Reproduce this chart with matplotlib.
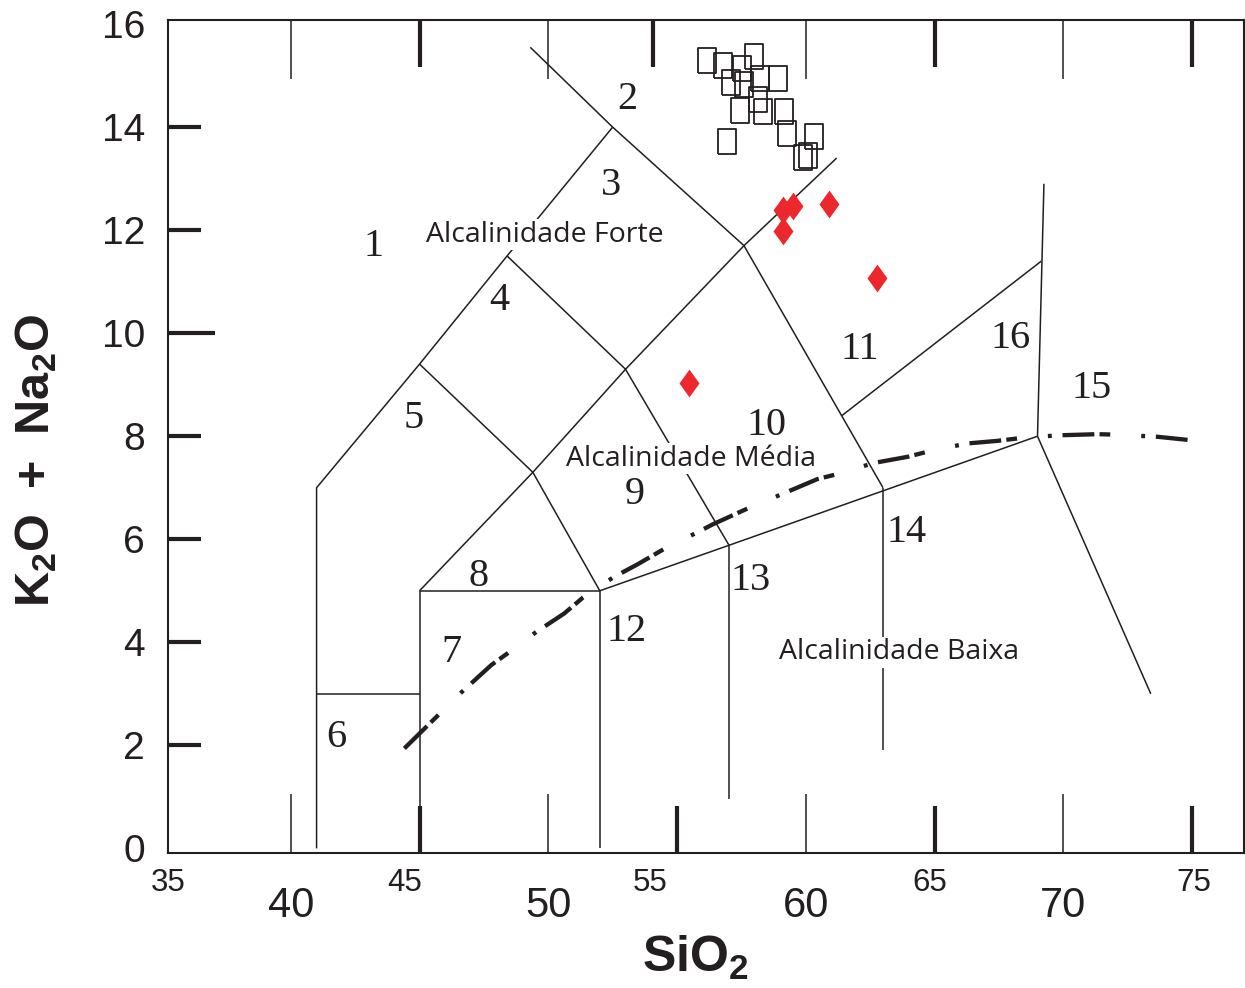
import matplotlib
matplotlib.use("Agg")
import matplotlib.pyplot as plt

plt.rcParams["font.family"] = "Liberation Sans"
plt.rcParams["mathtext.fontset"] = "custom"
plt.rcParams["mathtext.bf"] = "Liberation Sans:bold"
plt.rcParams["mathtext.rm"] = "Liberation Sans"

INK = "#231f20"
RED = "#ec282e"

# samples: open rectangles (SiO2, K2O+Na2O)
sq_sio2 = [56.17, 56.79, 57.98, 57.51, 57.09, 57.62, 58.22, 58.93, 58.13,
           57.43, 58.34, 59.14, 56.94, 59.28, 60.33, 59.91, 60.07]
sq_alk = [15.31, 15.21, 15.39, 15.15, 14.88, 14.83, 14.96, 14.95, 14.55,
          14.33, 14.31, 14.32, 13.74, 13.89, 13.82, 13.42, 13.45]

# samples: red diamonds
dm_sio2 = [59.13, 59.13, 59.52, 60.90, 62.76, 55.46]
dm_alk = [11.98, 12.40, 12.46, 12.51, 11.07, 9.04]

# field boundaries of the TAS grid
fields = [
    ([41, 41, 45, 48.4, 52.5], [0, 7, 9.4, 11.5, 14]),
    ([49.3, 52.5, 57.6, 63], [15.55, 14, 11.7, 7]),
    ([45, 49.4, 53, 57.6, 61.2], [5, 7.3, 9.3, 11.7, 13.4]),
    ([45, 49.4, 52], [9.4, 7.3, 5]),
    ([48.4, 53, 57], [11.5, 9.3, 5.9]),
    ([41, 45], [3, 3]),
    ([45, 45, 52, 52], [0, 5, 5, 0]),
    ([52, 57, 63, 69], [5, 5.88, 6.94, 8]),
    ([57, 57], [0.95, 5.9]),
    ([63, 63], [1.9, 7]),
    ([61.4, 69.15], [8.4, 11.4]),
    ([69, 69.25], [8, 12.9]),
    ([69, 73.4], [8, 3]),
]

# alkaline / subalkaline divide (dash-dot)
div_sio2 = [44.41, 45.59, 46.65, 47.79, 48.43, 49.53, 50.62, 51.35, 52.52,
            53.49, 54.49, 55.81, 56.39, 57.75, 59.14, 60.46, 61.35, 62.63,
            63.95, 64.96, 66.28, 67.44, 68.60, 69.96, 71.32, 72.10, 73.65, 75.01]
div_alk = [1.94, 2.52, 3.04, 3.56, 3.79, 4.20, 4.56, 4.87, 5.26,
           5.52, 5.81, 6.14, 6.29, 6.60, 6.89, 7.17, 7.28, 7.48,
           7.60, 7.73, 7.86, 7.91, 7.98, 8.02, 8.04, 8.03, 7.99, 7.92]

field_labels = [("1", 43.21, 11.68), ("2", 53.05, 14.53), ("3", 52.43, 12.86),
                ("4", 48.09, 10.63), ("5", 44.76, 8.34), ("6", 41.78, 2.16),
                ("7", 46.23, 3.81), ("8", 47.30, 5.27), ("9", 53.36, 6.86),
                ("10", 58.48, 8.20), ("11", 62.09, 9.68), ("12", 53.05, 4.20),
                ("13", 57.86, 5.20), ("14", 63.91, 6.14), ("15", 71.12, 8.92),
                ("16", 67.94, 9.90)]
zone_labels = [("Alcalinidade Forte", 49.88, 11.91),
               ("Alcalinidade Média", 55.53, 7.56),
               ("Alcalinidade Baixa", 63.64, 3.81)]

big_xticks = [40, 50, 60, 70]
small_xticks = [35.23, 44.42, 53.95, 64.8, 75.08]
small_xlabels = ["35", "45", "55", "65", "75"]
thick_top = [45, 54.05, 65, 75]
thick_bottom = [45, 55, 65, 75]
yticks = [0, 2, 4, 6, 8, 10, 12, 14, 16]

fig = plt.figure(figsize=(12.45, 9.88), dpi=100)
ax = fig.add_axes([168 / 1245, 1 - 853 / 988, 1076 / 1245, 832.5 / 988])
ax.set_xlim(35.30, 77.02)
ax.set_ylim(-0.09, 16.07)
for s in ax.spines.values():
    s.set_linewidth(1.5)
    s.set_color(INK)

for xs, ys in fields:
    ax.plot(xs, ys, color=INK, lw=1.1, solid_capstyle="butt", zorder=2)

for s, x, y in field_labels:
    ax.text(x, y, s, family="Liberation Serif", fontsize=29, color=INK,
            ha="center", va="center", zorder=3)
for s, x, y in zone_labels:
    ax.text(x, y, s, family="Open Sans", fontsize=20.5, color=INK,
            ha="center", va="center", zorder=3,
            bbox=dict(facecolor="white", edgecolor="none", pad=1))

ax.plot(div_sio2, div_alk, color=INK, lw=3.1,
        linestyle=(0, (7.4, 1.2, 2.5, 7.2, 0.9, 2.5)), zorder=4)

rect = [(-0.375, -0.5), (0.375, -0.5), (0.375, 0.5), (-0.375, 0.5), (-0.375, -0.5)]
ax.plot(sq_sio2, sq_alk, linestyle="none", marker=rect, markersize=18,
        markerfacecolor="none", markeredgecolor=INK, markeredgewidth=1.3, zorder=5)
diam = [(0, -0.5), (0.36, 0), (0, 0.5), (-0.36, 0), (0, -0.5)]
ax.plot(dm_sio2, dm_alk, linestyle="none", marker=diam, markersize=20,
        color=RED, markeredgewidth=0, zorder=5)

# tick marks drawn inside the frame
xt = ax.get_xaxis_transform()
yt = ax.get_yaxis_transform()
ax.vlines(big_xticks, 1 - 0.0697, 1, transform=xt, color=INK, lw=1.1)
ax.vlines(big_xticks, 0, 0.0709, transform=xt, color=INK, lw=1.1)
ax.vlines(thick_top, 1 - 0.0553, 1, transform=xt, color=INK, lw=3)
ax.vlines(thick_bottom, 0, 0.0565, transform=xt, color=INK, lw=3)
for v in yticks[1:-1]:
    ln = 0.0437 if v == 10 else 0.0307
    ax.hlines(v, 0, ln, transform=yt, color=INK, lw=3)

ax.set_yticks(yticks)
ax.tick_params(axis="y", length=0, pad=16.5, labelsize=28, labelcolor=INK)
ax.set_xticks(big_xticks)
ax.tick_params(axis="x", which="major", length=0, pad=23.5, labelsize=30, labelcolor=INK)
ax.set_xticks(small_xticks, minor=True)
ax.set_xticklabels(small_xlabels, minor=True)
ax.tick_params(axis="x", which="minor", length=0, pad=10.5, labelsize=22.5, labelcolor=INK)

fig.text(36 / 1245, 1 - 460 / 988, r"$\mathbf{K_2O\ +\ Na_2O}$", rotation=90,
         fontsize=35, color=INK, ha="center", va="center")
fig.text(695 / 1245, 1 - 958 / 988, r"$\mathbf{SiO_2}$",
         fontsize=36, color=INK, ha="center", va="center")

fig.savefig("out.png", dpi=100)
